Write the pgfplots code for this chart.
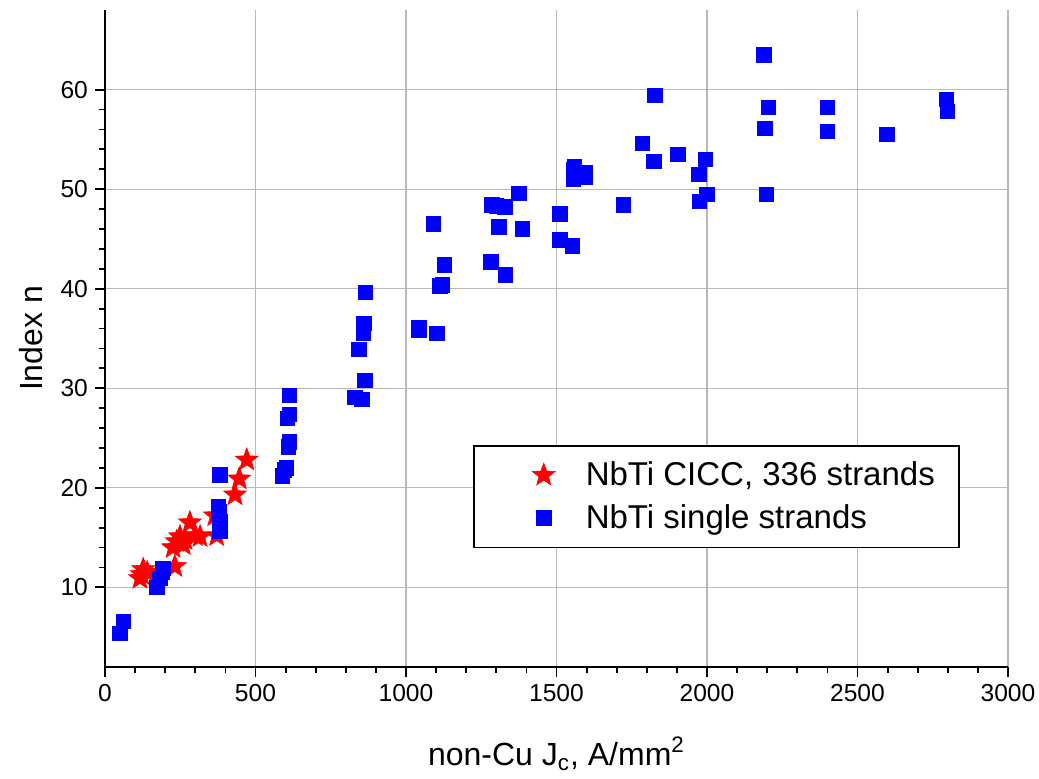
\documentclass[border=0pt]{standalone}
\usepackage{pgfplots}
\pgfplotsset{compat=1.18}
\usepackage{fontspec}
\setmainfont{Liberation Sans}
\pgfdeclareplotmark{fivestar}{%
  \pgfpathmoveto{\pgfpointpolar{90}{\pgfplotmarksize}}%
  \pgfpathlineto{\pgfpointpolar{126}{0.42\pgfplotmarksize}}%
  \pgfpathlineto{\pgfpointpolar{162}{\pgfplotmarksize}}%
  \pgfpathlineto{\pgfpointpolar{198}{0.42\pgfplotmarksize}}%
  \pgfpathlineto{\pgfpointpolar{234}{\pgfplotmarksize}}%
  \pgfpathlineto{\pgfpointpolar{270}{0.42\pgfplotmarksize}}%
  \pgfpathlineto{\pgfpointpolar{306}{\pgfplotmarksize}}%
  \pgfpathlineto{\pgfpointpolar{342}{0.42\pgfplotmarksize}}%
  \pgfpathlineto{\pgfpointpolar{18}{\pgfplotmarksize}}%
  \pgfpathlineto{\pgfpointpolar{54}{0.42\pgfplotmarksize}}%
  \pgfpathclose
  \pgfusepathqfillstroke
}
\begin{document}
\begin{tikzpicture}
\begin{axis}[
  scale only axis,
  width=451.5pt, height=328.5pt,
  xmin=0, xmax=3000, ymin=2, ymax=68,
  axis x line*=bottom, axis y line*=left,
  axis line style={-, line width=1pt, black},
  xtick={0,500,...,3000}, ytick={10,20,...,60},
  minor x tick num=4, minor y tick num=4,
  tick align=outside,
  major tick length=5pt, minor tick length=3pt,
  tick style={black, line width=0.9pt},
  grid=major,
  major grid style={line width=0.6pt, draw=black!28},
  /pgf/number format/assume math mode=true,
  /pgf/number format/1000 sep={},
  tick label style={font=\fontsize{12.3}{14}\selectfont},
  xlabel={non-Cu J\textsubscript{c}, A/mm\textsuperscript{2}},
  ylabel={Index n},
  xlabel style={font=\fontsize{16}{19}\selectfont, yshift=-11pt},
  ylabel style={font=\fontsize{16}{19}\selectfont, yshift=2pt},
  legend style={at={(rel axis cs:0.4075,0.338)}, anchor=north west,
    draw=black, line width=0.8pt, font=\fontsize{16.5}{20}\selectfont,
    inner xsep=10pt, inner ysep=6pt, row sep=4pt},
  legend cell align=left,
  legend image code/.code={
    \path (0pt,0pt) -- (44pt,0pt);
    \draw[#1] plot coordinates {(25pt,0pt)};
  },
  clip=false,
]
\addplot[only marks, mark=fivestar, mark size=6pt, draw=none,
  mark options={fill=red, draw=red, line width=0.3pt}] coordinates {
(116,10.9) (122,11.3) (127,11.8) (140,11.5) (232,12.1) (226,14.0) (238,14.6)
(249,15.1) (260,14.3) (266,14.8) (282,16.5) (300,15.2) (316,15.1) (365,17.2)
(371,15.2) (432,19.3) (446,20.9) (471,22.8)
};
\addlegendentry{NbTi CICC, 336 strands}
\addplot[only marks, mark=square*, mark size=3.6pt, draw=none,
  mark options={fill=blue, draw=blue}] coordinates {
(50,5.4) (61,6.6) (172,10.0) (183,10.9) (193,11.9) (190,11.5)
(376,18.1) (378,17.6) (382,16.6) (382,15.6) (382,21.3)
(590,21.2) (596,21.8) (603,22.0) (609,24.1) (612,24.6) (606,27.0) (612,27.4) (612,29.3)
(830,29.1) (853,28.9) (864,30.8) (844,33.9) (858,35.5) (858,36.3) (860,36.5) (866,39.6)
(1043,35.8) (1043,36.1) (1102,35.5) (1121,40.4) (1127,42.4) (1091,46.5) (1113,40.3)
(1282,42.7) (1330,41.4) (1285,48.4) (1300,48.3) (1329,48.2) (1375,49.6) (1309,46.2) (1386,46.0)
(1511,47.5) (1511,44.9) (1552,44.3) (1556,52.0) (1595,51.7) (1556,51.0) (1595,51.2) (1560,52.3)
(1722,48.4) (1785,54.6) (1824,52.8) (1827,59.4) (1903,53.5) (1995,53.0) (1973,51.5) (1999,49.5) (1975,48.8)
(2189,63.5) (2204,58.2) (2193,56.1) (2198,49.5) (2400,58.2) (2400,55.8) (2597,55.5) (2796,59.0) (2799,57.8)
};
\addlegendentry{NbTi single strands}
\end{axis}
\pgfresetboundingbox
\path ([shift={(-52.5pt,-56pt)}]current axis.south west) rectangle ([shift={(15.5pt,5pt)}]current axis.north east);
\end{tikzpicture}
\end{document}
